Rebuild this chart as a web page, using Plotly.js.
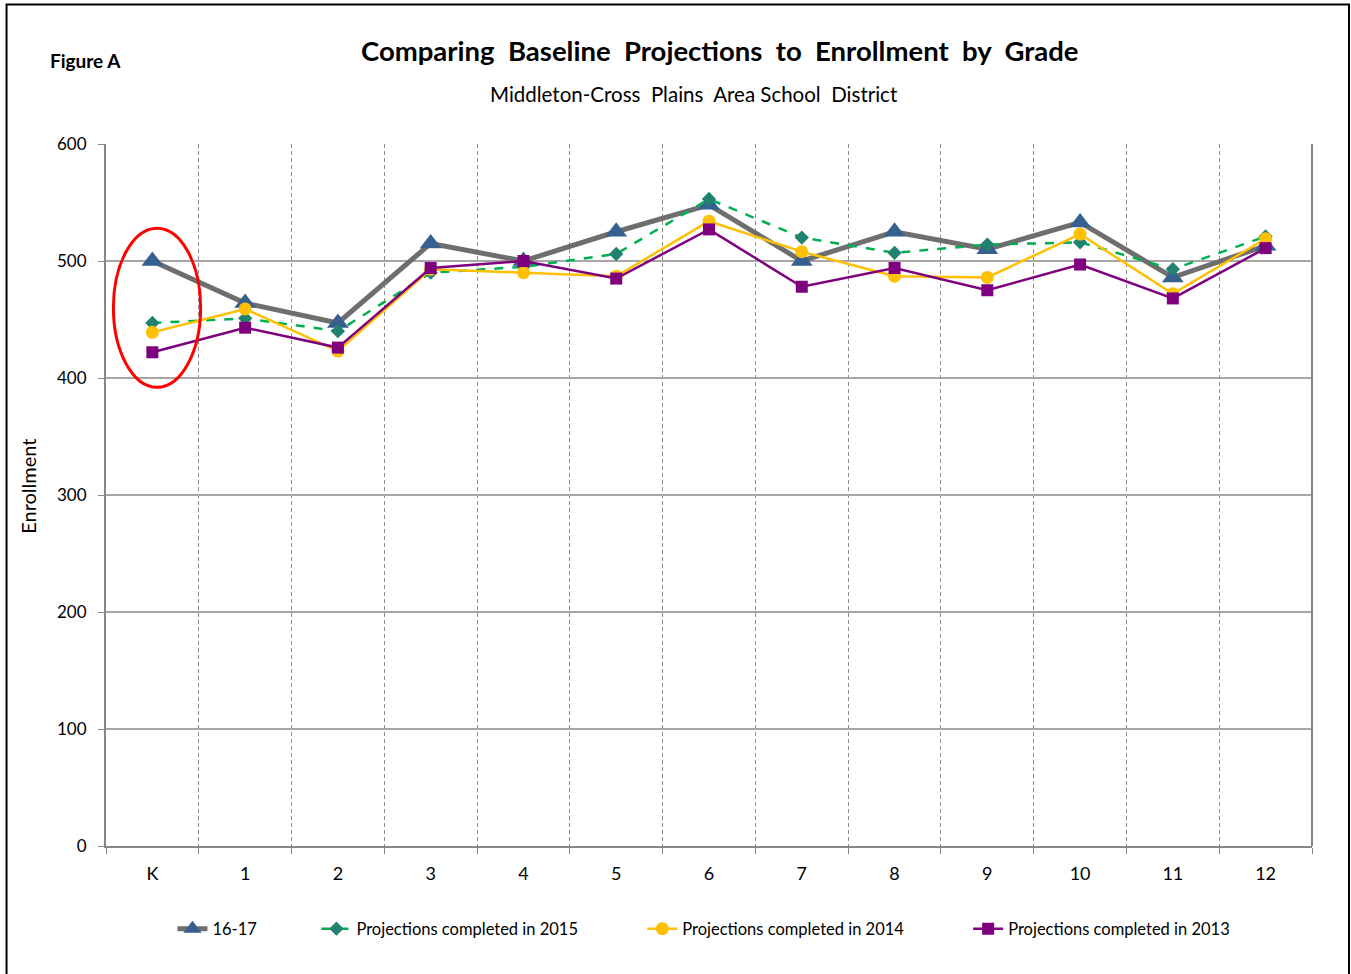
<!DOCTYPE html>
<html>
<head>
<meta charset="utf-8">
<script src="https://cdn.plot.ly/plotly-3.0.1.min.js"></script>
<style>
html,body{margin:0;padding:0;background:#fff;}
#chart{width:1351px;height:974px;}
</style>
</head>
<body>
<div id="chart"></div>
<script>
const grades = ["K","1","2","3","4","5","6","7","8","9","10","11","12"];
const enroll1617 = [500,464,447,515,500,525,548,500,525,510,533,486,513];
const proj2015 = [447,451,440,490,495,506,553,520,507,514,516,493,521];
const proj2014 = [439,459,423,493,490,487,534,508,487,486,523,472,519];
const proj2013 = [422,443,426,494,500,485,527,478,494,475,497,468,511];
const seriesNames = ["16-17","Projections completed in 2015","Projections completed in 2014","Projections completed in 2013"];

const FONT = "Lato, 'Open Sans', sans-serif";

const traces = [
  {x: grades, y: enroll1617, name: seriesNames[0], type: 'scatter', mode: 'lines+markers', legend: 'legend',
   line: {color: '#6e6e6e', width: 5},
   marker: {symbol: 'triangle-up', size: 19, color: '#35608f'}},
  {x: grades, y: proj2015, name: seriesNames[1], type: 'scatter', mode: 'lines+markers', legend: 'legend2',
   line: {color: '#00b050', width: 2.5, dash: 'dash'},
   marker: {symbol: 'diamond', size: 11, color: '#218270'}},
  {x: grades, y: proj2014, name: seriesNames[2], type: 'scatter', mode: 'lines+markers', legend: 'legend3',
   line: {color: '#ffc000', width: 2.5},
   marker: {symbol: 'circle', size: 13, color: '#ffc000'}},
  {x: grades, y: proj2013, name: seriesNames[3], type: 'scatter', mode: 'lines+markers', legend: 'legend4',
   line: {color: '#7f007f', width: 2.5},
   marker: {symbol: 'square', size: 12, color: '#7f007f'}}
];

function px2x(px){ return (px - 105.5) / 1206.5; }
function px2y(py){ return (846 - py) / 702.5; }
function leg(px){
  return {orientation: 'h', x: px2x(px), xanchor: 'left', y: px2y(929), yanchor: 'middle',
          font: {family: FONT, size: 16.5, color: '#000'}, itemwidth: 30, bgcolor: 'rgba(0,0,0,0)'};
}

const layout = {
  width: 1351, height: 974,
  margin: {l: 105.5, r: 39, t: 143.5, b: 128},
  paper_bgcolor: '#ffffff', plot_bgcolor: '#ffffff',
  font: {family: FONT, color: '#000000', size: 17},
  showlegend: true,
  legend: leg(172), legend2: leg(316), legend3: leg(642), legend4: leg(968),
  xaxis: {
    type: 'category', range: [-0.5, 12.5],
    tickson: 'boundaries', ticks: 'outside', ticklen: 6, tickcolor: '#868686',
    showgrid: true, gridcolor: '#8c8c8c', griddash: '4px,3px', gridwidth: 1,
    showline: true, linecolor: '#868686', linewidth: 2, mirror: false,
    tickfont: {family: FONT, size: 18, color: '#000'}, ticklabelstandoff: 10,
    zeroline: false, fixedrange: true
  },
  yaxis: {
    range: [0, 600], dtick: 100, tick0: 0,
    ticks: 'outside', ticklen: 6, tickcolor: '#868686',
    showgrid: true, gridcolor: '#a6a6a6', gridwidth: 1.2,
    showline: true, linecolor: '#868686', linewidth: 2,
    tickfont: {family: FONT, size: 17, color: '#000'}, ticklabelstandoff: 8,
    zeroline: false, fixedrange: true
  },
  annotations: [
    {text: '<b>Comparing  Baseline  Projections  to  Enrollment  by  Grade</b>', xref: 'paper', yref: 'paper',
     x: px2x(720), y: px2y(50), xanchor: 'center', yanchor: 'middle', showarrow: false,
     font: {family: FONT, size: 27.5, color: '#000'}},
    {text: 'Middleton-Cross  Plains  Area School  District', xref: 'paper', yref: 'paper',
     x: px2x(694), y: px2y(93), xanchor: 'center', yanchor: 'middle', showarrow: false,
     font: {family: FONT, size: 20.5, color: '#000'}},
    {text: '<b>Figure A</b>', xref: 'paper', yref: 'paper',
     x: px2x(47), y: px2y(60), xanchor: 'left', yanchor: 'middle', showarrow: false,
     font: {family: FONT, size: 19, color: '#000'}},
    {text: 'Enrollment', xref: 'paper', yref: 'paper', textangle: -90,
     x: px2x(28), y: px2y(486), xanchor: 'center', yanchor: 'middle', showarrow: false,
     font: {family: FONT, size: 20, color: '#000'}}
  ],
  shapes: [
    {type: 'rect', xref: 'paper', yref: 'paper', x0: px2x(6), x1: px2x(1349), y0: px2y(976), y1: px2y(4),
     line: {color: '#000', width: 2}, fillcolor: 'rgba(0,0,0,0)', layer: 'below'},
    {type: 'line', xref: 'paper', yref: 'paper', x0: 1, x1: 1, y0: 0, y1: 1,
     line: {color: '#868686', width: 2}},
    {type: 'circle', xref: 'x', yref: 'y', x0: -0.42, x1: 0.52, y0: 392, y1: 528,
     line: {color: '#ff0000', width: 3}, fillcolor: 'rgba(0,0,0,0)'}
  ]
};

Plotly.newPlot('chart', traces, layout, {displayModeBar: false, staticPlot: true});
</script>
</body>
</html>
